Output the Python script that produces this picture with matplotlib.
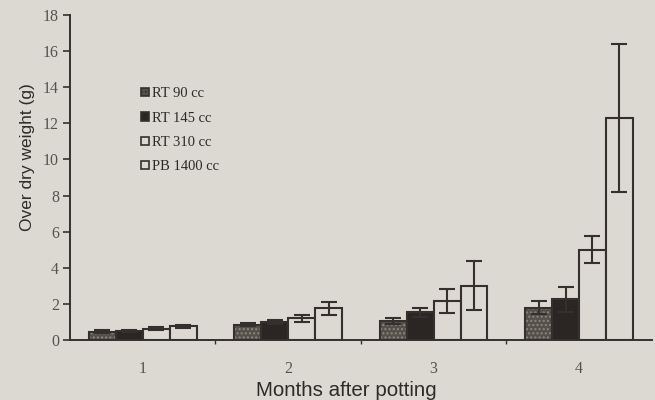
import numpy as np
import matplotlib.pyplot as plt
from matplotlib.patches import Patch

months = [1, 2, 3, 4]
series = ["RT 90 cc", "RT 145 cc", "RT 310 cc", "PB 1400 cc"]
rt90 = [0.45, 0.85, 1.05, 1.8]
rt145 = [0.5, 1.0, 1.55, 2.25]
rt310 = [0.62, 1.2, 2.15, 5.0]
pb1400 = [0.75, 1.75, 3.0, 12.3]
rt90_err = [0.08, 0.1, 0.15, 0.35]
rt145_err = [0.08, 0.1, 0.25, 0.7]
rt310_err = [0.08, 0.18, 0.65, 0.75]
pb1400_err = [0.1, 0.37, 1.35, 4.1]

paper = "#dcd9d2"
ink = "#35302d"

fig = plt.figure(figsize=(6.55, 4.0), dpi=100, facecolor=paper)
ax = fig.add_axes([0.107, 0.15, 0.888, 0.8125], facecolor=paper)

x = np.array(months, dtype=float)
w = 0.185
values = [rt90, rt145, rt310, pb1400]
errors = [rt90_err, rt145_err, rt310_err, pb1400_err]
faces = ["#56504b", "#2b2624", paper, paper]
hatches = ["....", None, None, None]
for i, (vals, errs) in enumerate(zip(values, errors)):
    pos = x + (i - 1.5) * w
    if hatches[i]:
        ax.bar(pos, vals, w, color=faces[i], edgecolor="#8c8680",
               hatch=hatches[i], linewidth=0, zorder=2)
        ax.bar(pos, vals, w, facecolor="none", edgecolor=ink,
               linewidth=1.5, zorder=3)
    else:
        ax.bar(pos, vals, w, color=faces[i], edgecolor=ink,
               linewidth=1.5, zorder=3)
    ax.errorbar(pos, vals, yerr=errs, fmt="none", ecolor=ink,
                elinewidth=1.5, capsize=6, capthick=1.5, zorder=4)

ax.set_xlim(0.5, 4.5)
ax.set_ylim(0, 18)
ax.set_yticks(range(0, 19, 2))
ax.set_xticks(months)
ax.set_xticks([1.5, 2.5, 3.5], minor=True)
for s in ["top", "right"]:
    ax.spines[s].set_visible(False)
for s in ["left", "bottom"]:
    ax.spines[s].set_color(ink)
    ax.spines[s].set_linewidth(1.4)

ax.tick_params(axis="y", length=5, width=1.2, color=ink, labelsize=11.5,
               labelcolor="#57524e", pad=3)
ax.tick_params(axis="x", which="major", length=0, pad=15, labelsize=11.5,
               labelcolor="#57524e")
ax.tick_params(axis="x", which="minor", length=3, width=1, color=ink)
for t in ax.get_xticklabels() + ax.get_yticklabels():
    t.set_fontfamily("Liberation Serif")

ax.set_ylabel("Over dry weight (g)", fontsize=12.5, family="Liberation Sans",
              color="#2e2a28")
ax.yaxis.set_label_coords(-0.06, 0.563)
ax.set_xlabel("Months after potting", fontsize=14.8, family="Liberation Sans",
              color="#2e2a28")
ax.xaxis.set_label_coords(0.475, -0.125)

handles = [
    Patch(facecolor=faces[0], edgecolor=ink, hatch="....", linewidth=1.2),
    Patch(facecolor=faces[1], edgecolor=ink, linewidth=1.2),
    Patch(facecolor=faces[2], edgecolor=ink, linewidth=1.2),
    Patch(facecolor=faces[3], edgecolor=ink, linewidth=1.2),
]
leg = ax.legend(handles, series, loc="upper left",
                bbox_to_anchor=(0.11, 0.80),
                frameon=False, handlelength=0.5, handleheight=0.5,
                handletextpad=0.2, labelspacing=0.78, borderpad=0,
                prop={"family": "Liberation Serif", "size": 10.5})
for t in leg.get_texts():
    t.set_color("#2e2a28")

plt.savefig("out.png", dpi=100, facecolor=paper)
